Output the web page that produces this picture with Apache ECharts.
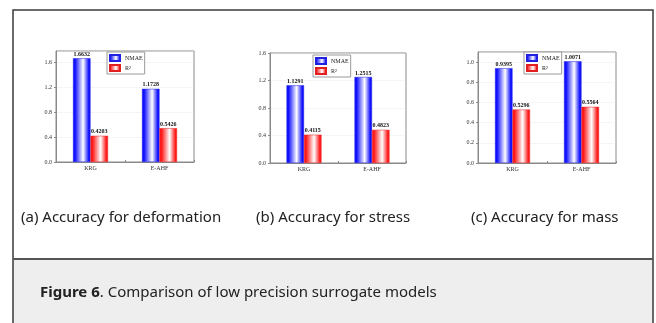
<!DOCTYPE html>
<html>
<head>
<meta charset="utf-8">
<script src="https://cdn.jsdelivr.net/npm/echarts@6/dist/echarts.min.js"></script>
<style>
  html, body { margin: 0; padding: 0; background: #fff; }
  #main { width: 656px; height: 323px; }
</style>
</head>
<body>
<div id="main"></div>
<script>
// data
var categories = ['KRG', 'E-AHF'];
var seriesNames = ['NMAE', 'R²'];
var nmaeDeform = [1.6632, 1.1728];
var r2Deform = [0.4203, 0.5426];
var nmaeStress = [1.1291, 1.2515];
var r2Stress = [0.4115, 0.4823];
var nmaeMass = [0.9395, 1.0071];
var r2Mass = [0.5296, 0.5564];
var subCaptions = ['(a) Accuracy for deformation', '(b) Accuracy for stress', '(c) Accuracy for mass'];

var chartDom = document.getElementById('main');
var myChart = echarts.init(chartDom);

function grad(c) {
  return new echarts.graphic.LinearGradient(0, 0, 1, 0, [
    { offset: 0, color: c },
    { offset: 0.12, color: c },
    { offset: 0.58, color: '#ffffff' },
    { offset: 0.9, color: c },
    { offset: 1, color: c }
  ]);
}
var blue = grad('#1010ff');
var red = grad('#ff1a1a');
var serif = 'Liberation Serif, Times New Roman, serif';

// one panel = grid + axes + two bar series + legend
var panels = [
  { grid: { left: 56, top: 51, width: 138, height: 111 }, max: 1.78, interval: 0.4, nmae: nmaeDeform, r2: r2Deform, legend: { left: 107, top: 52 } },
  { grid: { left: 270, top: 53, width: 136, height: 110 }, max: 1.6, interval: 0.4, nmae: nmaeStress, r2: r2Stress, legend: { left: 313, top: 55 } },
  { grid: { left: 478, top: 52, width: 138, height: 111 }, max: 1.1, interval: 0.2, nmae: nmaeMass, r2: r2Mass, legend: { left: 524, top: 52 } }
];

var grids = [], xAxes = [], yAxes = [], series = [], legends = [];
panels.forEach(function (p, i) {
  grids.push(Object.assign({ show: true, borderColor: '#8a8a8a', borderWidth: 1, containLabel: false }, p.grid));
  xAxes.push({
    type: 'category', gridIndex: i, data: categories,
    axisLine: { lineStyle: { color: '#8a8a8a' } },
    axisTick: { show: true, inside: true, length: 2, lineStyle: { color: '#8a8a8a' } },
    axisLabel: { fontFamily: serif, fontSize: 6, color: '#333', margin: 3 }
  });
  yAxes.push({
    type: 'value', gridIndex: i, min: 0, max: p.max, interval: p.interval,
    axisLine: { show: true, lineStyle: { color: '#8a8a8a' } },
    axisTick: { show: true, length: 2, lineStyle: { color: '#8a8a8a' } },
    axisLabel: {
      fontFamily: serif, fontSize: 6, color: '#333', margin: 4,
      showMaxLabel: p.max === 1.6,
      formatter: function (v) { return v.toFixed(1); }
    },
    splitLine: { show: true, lineStyle: { color: '#e4e4e4', type: 'dotted', width: 0.8 } }
  });
  var lab = {
    show: true, position: 'top', distance: 1,
    fontFamily: serif, fontSize: 6, fontWeight: 'bold', color: '#111',
    formatter: function (d) { return d.value.toFixed(4); }
  };
  series.push({
    name: seriesNames[0], type: 'bar', xAxisIndex: i, yAxisIndex: i, data: p.nmae,
    barWidth: 17.5, barGap: '0%', itemStyle: { color: blue, borderColor: '#2020e0', borderWidth: 0.5 },
    label: lab
  });
  series.push({
    name: seriesNames[1], type: 'bar', xAxisIndex: i, yAxisIndex: i, data: p.r2,
    barWidth: 17.5, barGap: '0%', itemStyle: { color: red, borderColor: '#e02020', borderWidth: 0.5 },
    label: lab
  });
  legends.push({
    data: seriesNames, left: p.legend.left, top: p.legend.top, orient: 'vertical',
    icon: 'rect', itemWidth: 10, itemHeight: 6, itemGap: 2, padding: [2, 2],
    borderColor: '#999', borderWidth: 1, backgroundColor: '#fff',
    textStyle: { fontFamily: serif, fontSize: 6, color: '#222' }
  });
});

var titles = [
  { text: subCaptions[0], left: 21, top: 210 },
  { text: subCaptions[1], left: 256, top: 210 },
  { text: subCaptions[2], left: 471, top: 210 },
  { text: '{b|Figure 6}. Comparison of low precision surrogate models', left: 40, top: 285 }
].map(function (t) {
  return {
    text: t.text, left: t.left, top: t.top, padding: 0,
    textStyle: {
      fontFamily: 'Noto Sans', fontSize: 15, fontWeight: 'normal', color: '#222',
      rich: { b: { fontFamily: 'Noto Sans', fontSize: 15, fontWeight: 'bold', color: '#222' } }
    }
  };
});

var option = {
  animation: false,
  backgroundColor: '#fff',
  title: titles,
  graphic: [
    { type: 'rect', z: -10, shape: { x: 13, y: 259, width: 640, height: 80 }, style: { fill: '#eeeeee' } },
    { type: 'rect', z: -9, shape: { x: 13, y: 10, width: 640, height: 330 }, style: { fill: 'none', stroke: '#3a3a3a', lineWidth: 1.5 } },
    { type: 'line', z: -9, shape: { x1: 13, y1: 259, x2: 653, y2: 259 }, style: { stroke: '#555', lineWidth: 2 } }
  ],
  grid: grids,
  xAxis: xAxes,
  yAxis: yAxes,
  legend: legends,
  series: series
};

myChart.setOption(option, true);
</script>
</body>
</html>
